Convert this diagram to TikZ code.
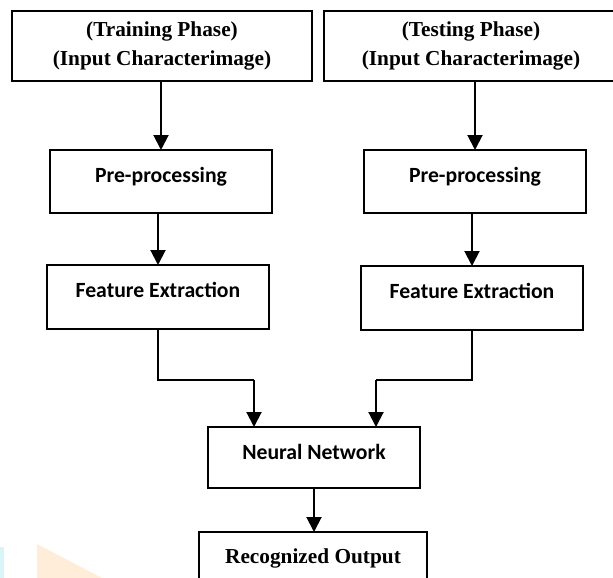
\documentclass[tikz,border=0pt]{standalone}
\usepackage{fontspec}
\setmainfont{Liberation Serif}
\newfontfamily\labelsans{Carlito}
\usetikzlibrary{arrows.meta}
\definecolor{markcyan}{rgb}{0.85,0.96,0.98}
\definecolor{markorange}{rgb}{1,0.93,0.85}
\begin{document}
\begin{tikzpicture}[x=1pt,y=-1pt,
  serifbox/.style={draw, line width=2pt, inner sep=0pt, outer sep=0pt, align=center,
    font=\bfseries\fontsize{21.3}{29}\selectfont},
  sansbox/.style={draw, line width=1.8pt, inner sep=0pt, outer sep=0pt, anchor=north,
    text height=32pt, font=\labelsans\bfseries\fontsize{21.7}{25}\selectfont},
  flow/.style={line width=2pt, -{Triangle[width=15pt,length=15pt]}},
  elbow/.style={line width=1.5pt}]
\useasboundingbox (0,0) rectangle (613,578);

% faint corner marks
\fill[markcyan] (0,547) rectangle (4,578);
\fill[markorange] (37,544) -- (102,578) -- (37,578) -- cycle;

% input boxes
\node[serifbox, minimum width=300pt, minimum height=70pt] (train) at (162,46)
  {(Training Phase)\\(Input Characterimage)};
\node[serifbox, minimum width=294pt, minimum height=70pt] (test) at (471,46)
  {(Testing Phase)\\(Input Characterimage)};

% processing stages
\node[sansbox, minimum width=222pt, text depth=31pt] (pre1) at (161,150) {Pre-processing};
\node[sansbox, minimum width=222pt, text depth=31pt] (pre2) at (475,150) {Pre-processing};
\node[sansbox, minimum width=222pt, text depth=32pt] (fe1) at (158,265) {Feature Extraction};
\node[sansbox, minimum width=222pt, text depth=32pt] (fe2) at (472,266) {Feature Extraction};
\node[sansbox, minimum width=212pt, text depth=29pt] (nn) at (314,427) {Neural Network};
\node[serifbox, anchor=north, minimum width=228pt, text height=31pt, text depth=30pt] (out) at (313,532)
  {Recognized Output};

% connectors
\draw[flow] (pre1.north |- train.south) -- (pre1.north);
\draw[flow] (pre2.north |- test.south) -- (pre2.north);
\draw[flow] (fe1.north |- pre1.south) -- (fe1.north);
\draw[flow] (fe2.north |- pre2.south) -- (fe2.north);

\coordinate (lk) at (254,380);
\coordinate (rk) at (376,380);
\draw[elbow] (fe1.south) |- (lk);
\draw[elbow] (fe2.south) |- (rk);
\draw[flow] (lk) -- (lk |- nn.north);
\draw[flow] (rk) -- (rk |- nn.north);

\draw[flow] (nn.south) -- (nn.south |- out.north);
\end{tikzpicture}
\end{document}
